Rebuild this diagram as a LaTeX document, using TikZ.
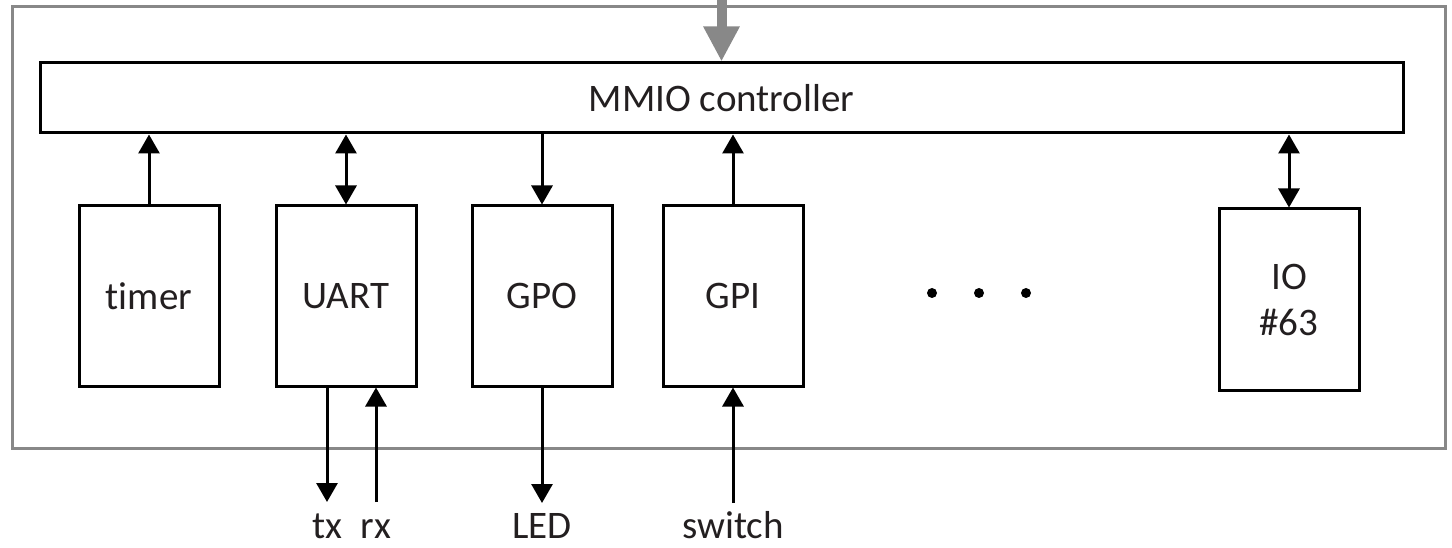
\documentclass[tikz,border=0pt]{standalone}
\usepackage{fontspec}
\setmainfont{Carlito}[Ligatures=NoCommon]
\usetikzlibrary{arrows.meta,calc}
\definecolor{txt}{HTML}{231F20}
\definecolor{frame}{HTML}{888888}
\tikzset{
  blk/.style={draw=black, line width=3pt, minimum width=140pt, minimum height=180pt, inner sep=0pt, text=txt, font=\fontsize{39}{46}\selectfont, align=center},
  conn/.style={line width=3pt, -{Triangle[length=19pt,width=21pt]}},
  biconn/.style={line width=3pt, {Triangle[length=19pt,width=21pt]}-{Triangle[length=19pt,width=21pt]}},
  lbl/.style={text=txt, font=\fontsize{39}{46}\selectfont, anchor=base, inner sep=0pt},
}
\begin{document}
\begin{tikzpicture}[x=1pt,y=-1pt]
\useasboundingbox (0,0) rectangle (1452,548);
\draw[frame, line width=3pt] (12,7) rectangle (1445,448);
\node[draw=black, line width=3pt, minimum width=1363pt, minimum height=70pt, inner sep=0pt, text=txt, font=\fontsize{39}{46}\selectfont] (mmio) at (721.5,98) {MMIO controller};
\node[blk] (timer) at (149,296) {timer};
\node[blk] (uart) at (346,296) {UART};
\node[blk] (gpo) at (542,296) {GPO};
\node[blk] (gpi) at (733,296) {GPI};
\node[blk, minimum height=181pt] (io) at (1289,299.5) {IO\\\#63};
\fill (932,293) circle (5pt) (979,293) circle (5pt) (1026,293) circle (5pt);
\coordinate (top) at (721.5,-2);
\draw[frame, line width=10pt, -{Triangle[length=35pt,width=34pt]}] (top) -- (mmio.north);
\draw[conn] (timer.north) -- (timer.north |- mmio.south);
\draw[biconn] (uart.north) -- (uart.north |- mmio.south);
\draw[conn] (gpo.north |- mmio.south) -- (gpo.north);
\draw[conn] (gpi.north) -- (gpi.north |- mmio.south);
\draw[biconn] (io.north) -- (io.north |- mmio.south);
\node[lbl] (tx) at (327,538) {tx};
\node[lbl] (rx) at (376,538) {rx};
\node[lbl] (led) at (542,538) {LED};
\node[lbl] (sw) at (733,538) {switch};
\coordinate (txend) at (327,502);
\coordinate (rxend) at (376,502);
\coordinate (ledend) at (542,503);
\coordinate (swend) at (733,503);
\draw[conn] (txend |- uart.south) -- (txend);
\draw[conn] (rxend) -- (rxend |- uart.south);
\draw[conn] (gpo.south) -- (ledend);
\draw[conn] (swend) -- (gpi.south);
\end{tikzpicture}
\end{document}
